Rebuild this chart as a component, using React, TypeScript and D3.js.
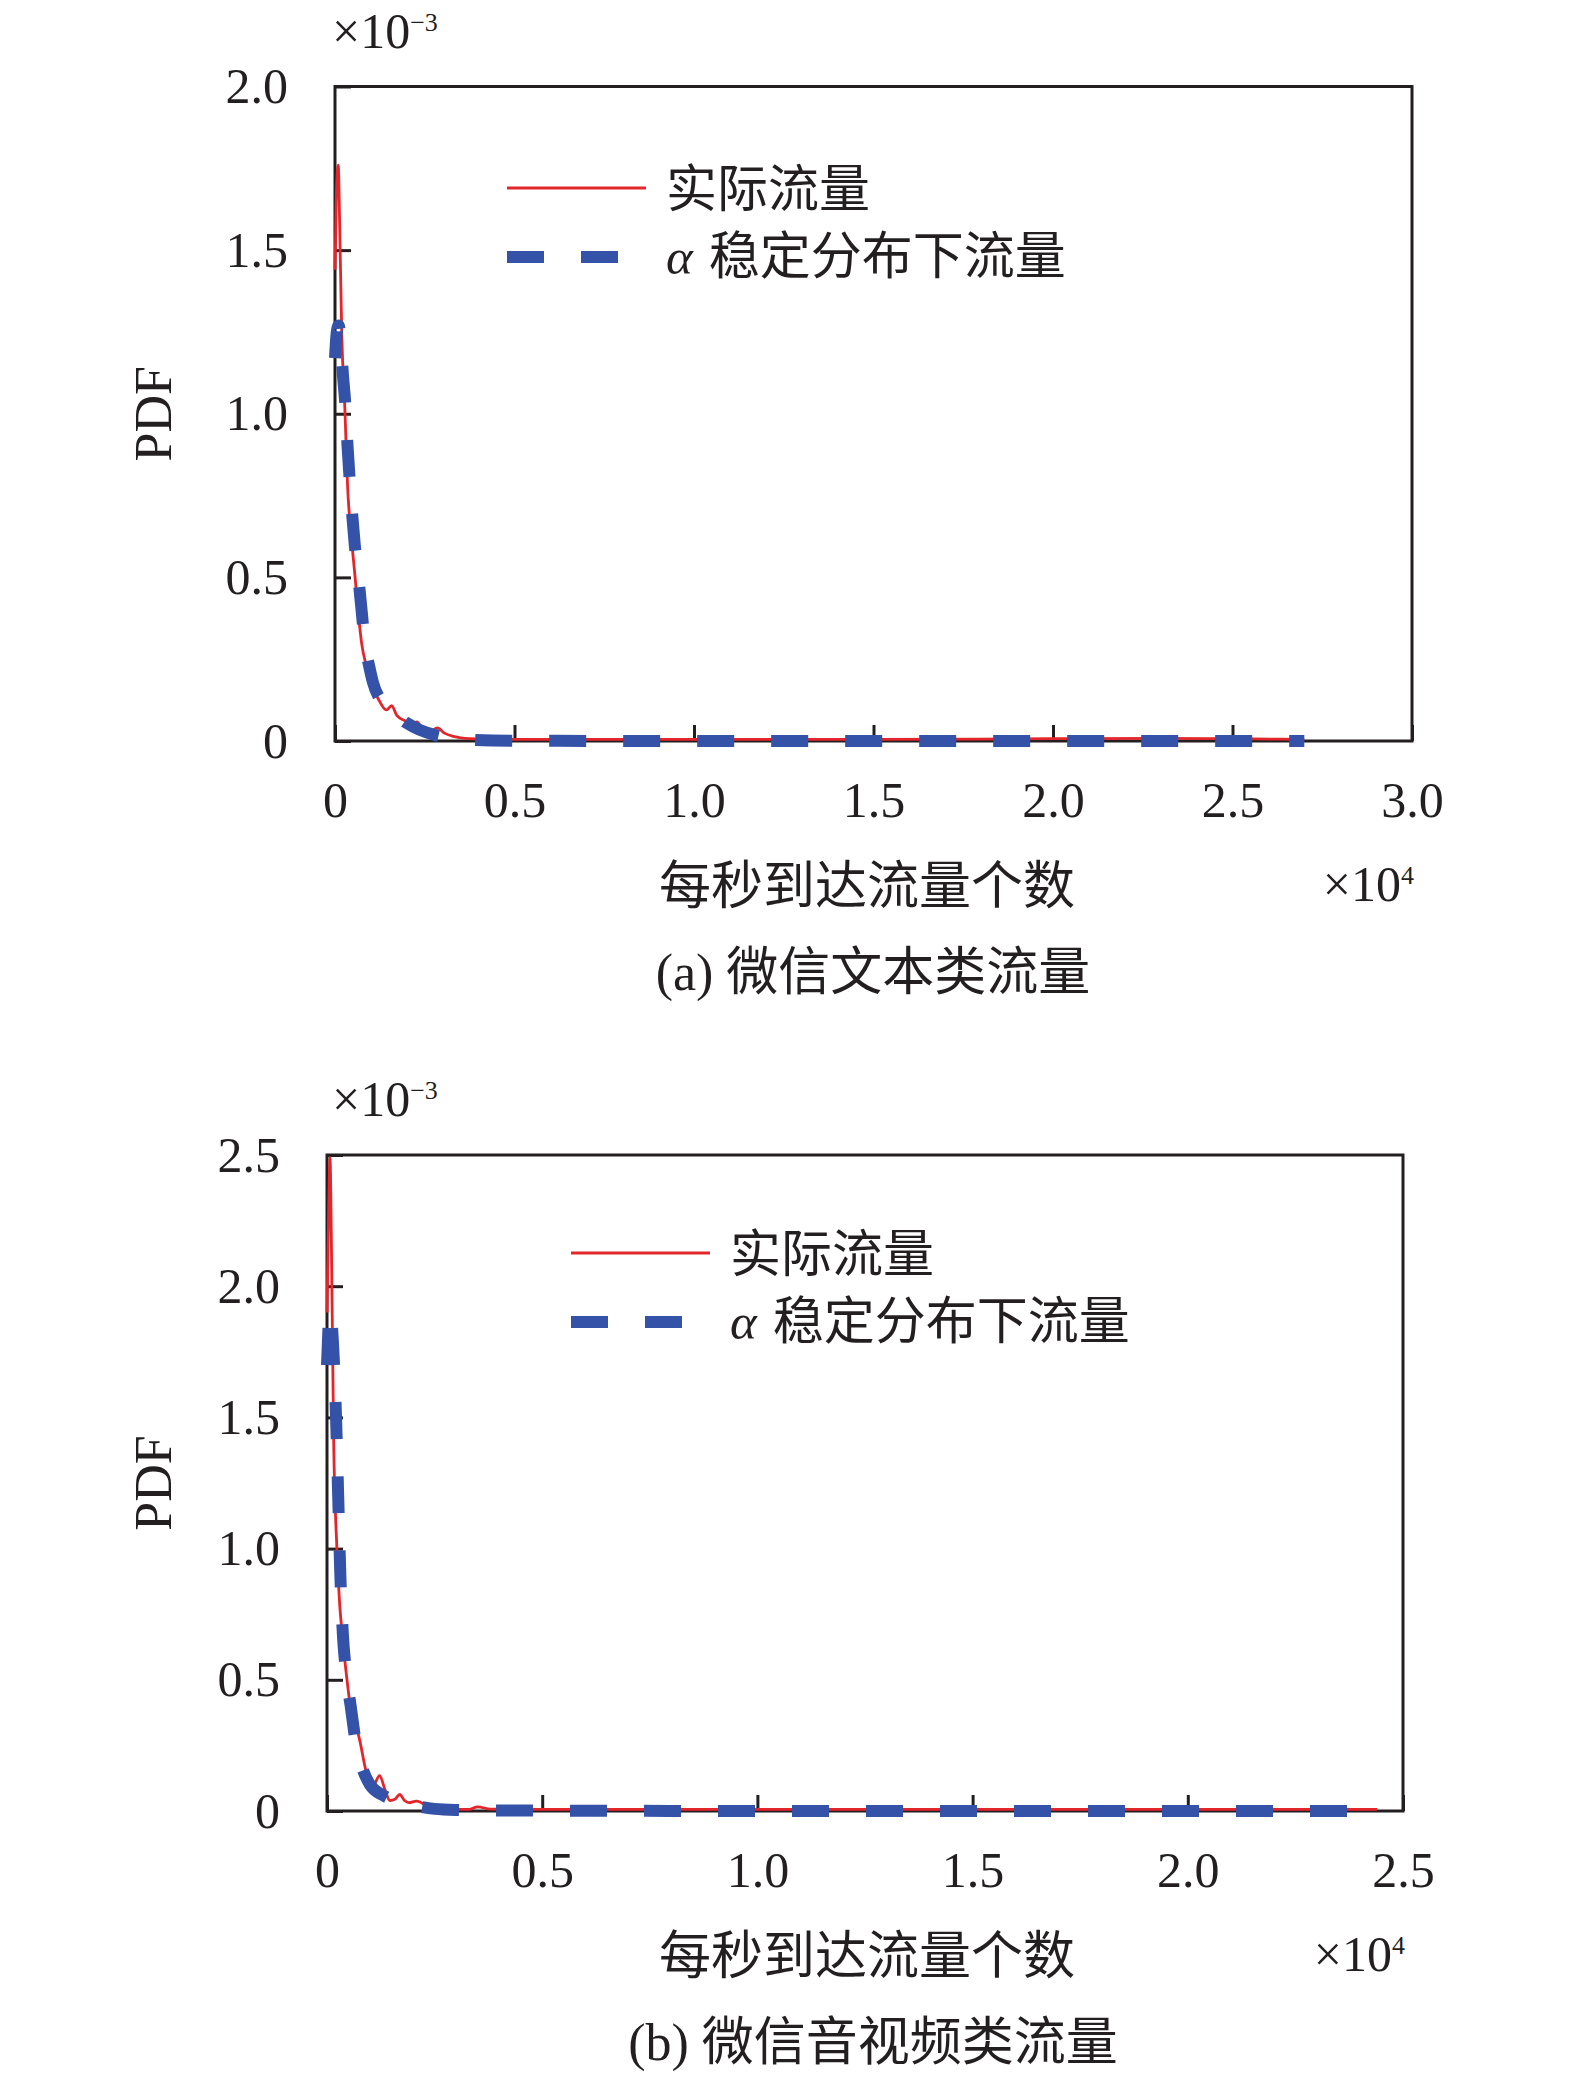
import React, { useRef, useEffect } from "react";
import * as d3 from "d3";

type Pt = [number, number];

// x: 每秒到达流量个数 (×10^4), y: PDF (×10^-3)

// (a) 微信文本类流量
const textActual: Pt[] = [
  [0, 1.44], [0.004, 1.68], [0.009, 1.76], [0.013, 1.58], [0.0185, 1.26],
  [0.028, 1.0], [0.035, 0.78], [0.045, 0.63], [0.056, 0.5], [0.065, 0.39],
  [0.074, 0.3], [0.087, 0.23], [0.1, 0.178], [0.12, 0.13], [0.143, 0.095],
  [0.158, 0.108], [0.172, 0.078], [0.195, 0.062], [0.215, 0.052], [0.228, 0.058],
  [0.245, 0.036], [0.265, 0.028], [0.285, 0.04], [0.305, 0.024], [0.33, 0.014],
  [0.375, 0.007], [0.45, 0.005], [1.0, 0.005], [1.5, 0.005], [2.0, 0.007],
  [2.3, 0.008], [2.5, 0.007], [2.7, 0.005],
];
const textStable: Pt[] = [
  [0, 1.17], [0.005, 1.25], [0.01, 1.27], [0.016, 1.22], [0.022, 1.12],
  [0.028, 1.04], [0.035, 0.9], [0.042, 0.78], [0.055, 0.6], [0.065, 0.5],
  [0.074, 0.4], [0.083, 0.3], [0.095, 0.23], [0.106, 0.178], [0.13, 0.12],
  [0.17, 0.08], [0.2, 0.055], [0.236, 0.034], [0.28, 0.018], [0.33, 0.008],
  [0.375, 0.004], [0.5, 0.001], [1.0, 0], [2.7, 0],
];

// (b) 微信音视频类流量
const videoActual: Pt[] = [
  [0, 1.9], [0.004, 2.3], [0.007, 2.49], [0.01, 2.2], [0.0155, 1.41],
  [0.023, 1.0], [0.029, 0.8], [0.035, 0.68], [0.0465, 0.5], [0.057, 0.37],
  [0.064, 0.345], [0.076, 0.27], [0.091, 0.15], [0.107, 0.095], [0.122, 0.135],
  [0.135, 0.08], [0.146, 0.04], [0.158, 0.045], [0.169, 0.063], [0.18, 0.04],
  [0.19, 0.032], [0.208, 0.038], [0.246, 0.01], [0.3, 0.006], [0.33, 0.006],
  [0.35, 0.016], [0.38, 0.007], [0.5, 0.006], [1.0, 0.006], [1.5, 0.006],
  [2.0, 0.006], [2.44, 0.006],
];
const videoStable: Pt[] = [
  [0, 1.7], [0.007, 1.91], [0.014, 1.78], [0.021, 1.5], [0.026, 1.2],
  [0.031, 0.9], [0.036, 0.7], [0.045, 0.52], [0.055, 0.4], [0.07, 0.23],
  [0.085, 0.15], [0.1, 0.1], [0.13, 0.06], [0.17, 0.035], [0.21, 0.018],
  [0.25, 0.008], [0.3, 0.004], [0.4, 0.002], [0.6, 0.001], [1.0, 0], [2.44, 0],
];

const xTicksText = [0, 0.5, 1, 1.5, 2, 2.5, 3];
const xTickLabelsText = ["0", "0.5", "1.0", "1.5", "2.0", "2.5", "3.0"];
const yTicksText = [0, 0.5, 1, 1.5, 2];
const yTickLabelsText = ["0", "0.5", "1.0", "1.5", "2.0"];

const xTicksVideo = [0, 0.5, 1, 1.5, 2, 2.5];
const xTickLabelsVideo = ["0", "0.5", "1.0", "1.5", "2.0", "2.5"];
const yTicksVideo = [0, 0.5, 1, 1.5, 2, 2.5];
const yTickLabelsVideo = ["0", "0.5", "1.0", "1.5", "2.0", "2.5"];

const legendActual = "实际流量";
const legendStable = "稳定分布下流量";
const xTitle = "每秒到达流量个数";
const yTitle = "PDF";
const captionText = "(a) 微信文本类流量";
const captionVideo = "(b) 微信音视频类流量";

const RED = "#e3262b";
const BLUE = "#3552a9";
const INK = "#231f20";
const SERIF = "'Liberation Serif', 'Times New Roman', 'Noto Sans CJK SC', serif";
const CJK = "'Liberation Serif', 'Noto Sans CJK SC', sans-serif";

interface PanelConfig {
  left: number;
  right: number;
  top: number;
  bottom: number;
  xMax: number;
  yMax: number;
  xTicks: number[];
  xLabels: string[];
  yTicks: number[];
  yLabels: string[];
  actual: Pt[];
  stable: Pt[];
  legendX: number;
  legendY: number;
  caption: string;
}

function drawChart(g: SVGGElement, cfg: PanelConfig) {
  const root = d3.select(g);
  root.selectAll("*").remove();

  const x = d3.scaleLinear().domain([0, cfg.xMax]).range([cfg.left, cfg.right]);
  const y = d3.scaleLinear().domain([0, cfg.yMax]).range([cfg.bottom, cfg.top]);

  // frame
  root
    .append("rect")
    .attr("x", cfg.left)
    .attr("y", cfg.top)
    .attr("width", cfg.right - cfg.left)
    .attr("height", cfg.bottom - cfg.top)
    .attr("fill", "none")
    .attr("stroke", INK)
    .attr("stroke-width", 3);

  // ticks point inwards
  const xAxis = root
    .append("g")
    .attr("transform", `translate(0, ${cfg.bottom})`)
    .call(
      d3
        .axisBottom(x)
        .tickValues(cfg.xTicks)
        .tickSize(-16)
        .tickSizeOuter(0)
        .tickPadding(40)
        .tickFormat((_, i) => cfg.xLabels[i])
    );
  const yAxis = root
    .append("g")
    .attr("transform", `translate(${cfg.left}, 0)`)
    .call(
      d3
        .axisLeft(y)
        .tickValues(cfg.yTicks)
        .tickSize(-16)
        .tickSizeOuter(0)
        .tickPadding(47)
        .tickFormat((_, i) => cfg.yLabels[i])
    );
  [xAxis, yAxis].forEach((ax) => {
    ax.select(".domain").remove();
    ax.attr("font-family", SERIF).attr("font-size", 50);
    ax.selectAll("line").attr("stroke", INK).attr("stroke-width", 3);
    ax.selectAll("text").attr("fill", INK);
  });

  const line = d3
    .line<Pt>()
    .x((d) => x(d[0]))
    .y((d) => y(d[1]))
    .curve(d3.curveMonotoneX);

  root
    .append("path")
    .attr("d", line(cfg.actual))
    .attr("fill", "none")
    .attr("stroke", RED)
    .attr("stroke-width", 2.8);

  root
    .append("path")
    .attr("d", line(cfg.stable))
    .attr("fill", "none")
    .attr("stroke", BLUE)
    .attr("stroke-width", 12)
    .attr("stroke-dasharray", "37 37");

  // legend
  const lx = cfg.legendX;
  const ly = cfg.legendY;
  root
    .append("line")
    .attr("x1", lx)
    .attr("x2", lx + 139)
    .attr("y1", ly)
    .attr("y2", ly)
    .attr("stroke", RED)
    .attr("stroke-width", 2.8);
  root
    .append("line")
    .attr("x1", lx)
    .attr("x2", lx + 111)
    .attr("y1", ly + 69)
    .attr("y2", ly + 69)
    .attr("stroke", BLUE)
    .attr("stroke-width", 12)
    .attr("stroke-dasharray", "37 37");
  root
    .append("text")
    .attr("x", lx + 159)
    .attr("y", ly + 19)
    .attr("font-family", CJK)
    .attr("font-size", 51)
    .attr("fill", INK)
    .text(legendActual);
  const st = root
    .append("text")
    .attr("x", lx + 159)
    .attr("y", ly + 86)
    .attr("font-family", CJK)
    .attr("font-size", 51)
    .attr("fill", INK);
  st.append("tspan").attr("font-style", "italic").attr("font-family", SERIF).text("α");
  st.append("tspan").attr("dx", 16).text(legendStable);

  // multipliers
  const ym = root
    .append("text")
    .attr("x", 332)
    .attr("y", cfg.top - 39)
    .attr("font-family", SERIF)
    .attr("font-size", 50)
    .attr("fill", INK);
  ym.append("tspan").text("×10");
  ym.append("tspan").attr("font-size", 26).attr("dy", -17).text("−3");

  const xm = root
    .append("text")
    .attr("x", cfg.right + 2)
    .attr("y", cfg.bottom + 160)
    .attr("text-anchor", "end")
    .attr("font-family", SERIF)
    .attr("font-size", 50)
    .attr("fill", INK);
  xm.append("tspan").text("×10");
  xm.append("tspan").attr("font-size", 26).attr("dy", -17).text("4");

  // titles
  root
    .append("text")
    .attr("x", 867)
    .attr("y", cfg.bottom + 163)
    .attr("text-anchor", "middle")
    .attr("font-family", CJK)
    .attr("font-size", 52)
    .attr("fill", INK)
    .text(xTitle);

  root
    .append("text")
    .attr("transform", `translate(171, ${(cfg.top + cfg.bottom) / 2}) rotate(-90)`)
    .attr("text-anchor", "middle")
    .attr("font-family", SERIF)
    .attr("font-size", 52)
    .attr("fill", INK)
    .text(yTitle);

  root
    .append("text")
    .attr("x", 873)
    .attr("y", cfg.bottom + 249)
    .attr("text-anchor", "middle")
    .attr("font-family", CJK)
    .attr("font-size", 52)
    .attr("fill", INK)
    .text(cfg.caption);
}

const panels: PanelConfig[] = [
  {
    left: 335, right: 1412, top: 86.5, bottom: 741,
    xMax: 3, yMax: 2,
    xTicks: xTicksText, xLabels: xTickLabelsText,
    yTicks: yTicksText, yLabels: yTickLabelsText,
    actual: textActual, stable: textStable,
    legendX: 507, legendY: 188,
    caption: captionText,
  },
  {
    left: 327, right: 1403, top: 1155, bottom: 1811,
    xMax: 2.5, yMax: 2.5,
    xTicks: xTicksVideo, xLabels: xTickLabelsVideo,
    yTicks: yTicksVideo, yLabels: yTickLabelsVideo,
    actual: videoActual, stable: videoStable,
    legendX: 571, legendY: 1253,
    caption: captionVideo,
  },
];

const Panel: React.FunctionComponent<{ cfg: PanelConfig }> = function ({ cfg }) {
  const ref = useRef<SVGGElement>(null);
  useEffect(() => {
    if (ref.current == null) {
      return;
    }
    drawChart(ref.current, cfg);
  }, [cfg]);
  return <g ref={ref}></g>;
};

export default function App() {
  return (
    <svg
      width={1575}
      height={2087}
      style={{ position: "absolute", left: 0, top: 0, background: "#fff" }}
    >
      <rect width={1575} height={2087} fill="#fff" />
      {panels.map((p, i) => (
        <Panel key={i} cfg={p} />
      ))}
    </svg>
  );
}
